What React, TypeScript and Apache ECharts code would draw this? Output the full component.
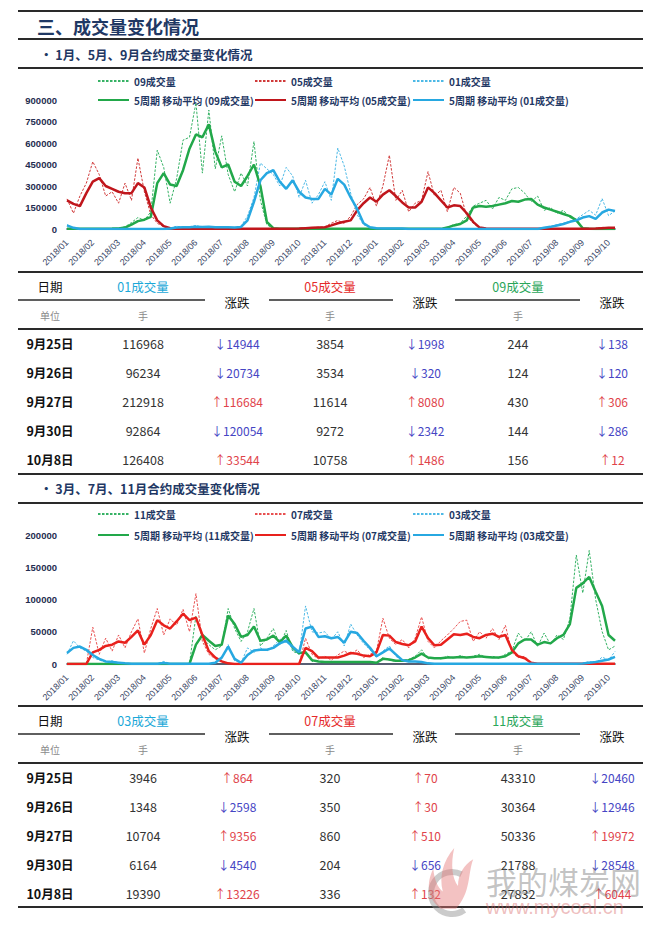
import React, { useEffect, useRef } from "react";
import * as echarts from "echarts";

// ---------- categories ----------
const months = [
  "2018/01", "2018/02", "2018/03", "2018/04", "2018/05", "2018/06", "2018/07", "2018/08",
  "2018/09", "2018/10", "2018/11", "2018/12", "2019/01", "2019/02", "2019/03", "2019/04",
  "2019/05", "2019/06", "2019/07", "2019/08", "2019/09", "2019/10",
];
const weeksInMonth = [4, 4, 4, 4, 4, 4, 4, 4, 4, 4, 4, 4, 4, 4, 4, 4, 4, 4, 4, 4, 4, 2];

// ---------- chart 1: 01 / 05 / 09 contracts ----------
const raw09 = [
  1000, 1500, 1000, 2000,
  2000, 3000, 2000, 3000,
  5000, 15000, 45000, 80000,
  60000, 120000, 550000, 430000,
  180000, 350000, 620000, 640000,
  880000, 390000, 830000, 420000,
  650000, 380000, 260000, 390000,
  300000, 610000, 200000, 30000,
  3000, 1000, 1000, 1000,
  1000, 1000, 1000, 1000,
  1000, 1000, 1000, 1000,
  1000, 1000, 1000, 1000,
  1000, 1000, 1000, 1000,
  1000, 1000, 1000, 1000,
  1000, 1000, 1000, 15000,
  30000, 40000, 90000, 160000,
  180000, 200000, 140000, 220000,
  200000, 280000, 290000, 250000,
  190000, 230000, 130000, 150000,
  110000, 130000, 80000, 70000,
  3000, 500, 244, 430,
  144, 156,
];
const ma09 = [
  1000, 1200, 1300, 1500,
  1800, 2200, 2500, 2800,
  4000, 10000, 30000, 55000,
  65000, 85000, 320000, 390000,
  310000, 300000, 410000, 560000,
  660000, 640000, 730000, 540000,
  430000, 450000, 330000, 300000,
  370000, 450000, 300000, 50000,
  6000, 1000, 1000, 1000,
  1000, 1000, 1000, 1000,
  1000, 1000, 1000, 1000,
  1000, 1000, 1000, 1000,
  1000, 1000, 1000, 1000,
  1000, 1000, 1000, 1000,
  1000, 1000, 1000, 10000,
  25000, 35000, 60000, 150000,
  160000, 155000, 160000, 170000,
  180000, 195000, 190000, 205000,
  210000, 170000, 150000, 135000,
  120000, 105000, 90000, 60000,
  5000, 1000, 500, 300,
  250, 200,
];
const raw05 = [
  210000, 110000, 230000, 320000,
  470000, 380000, 230000, 260000,
  180000, 320000, 200000, 495000,
  260000, 100000, 40000, 15000,
  5000, 1000, 1000, 1000,
  1000, 1000, 1000, 1000,
  1000, 1000, 1000, 1000,
  1000, 1000, 1000, 1000,
  1000, 1000, 1000, 1000,
  5000, 8000, 10000, 12000,
  15000, 40000, 60000, 40000,
  90000, 170000, 210000, 290000,
  160000, 300000, 515000, 200000,
  270000, 120000, 180000, 200000,
  400000, 230000, 270000, 120000,
  290000, 250000, 90000, 40000,
  8000, 2000, 1000, 1000,
  1000, 1000, 1000, 1000,
  1000, 1000, 1000, 1000,
  1000, 1000, 1000, 1000,
  1500, 3854, 3534, 11614,
  9272, 10758,
];
const ma05 = [
  200000, 175000, 160000, 250000,
  330000, 355000, 300000, 280000,
  260000, 250000, 250000, 320000,
  290000, 150000, 60000, 20000,
  6000, 1500, 1000, 1000,
  1000, 1000, 1000, 1000,
  1000, 1000, 1000, 1000,
  1000, 1000, 1000, 1000,
  1000, 1000, 1000, 1000,
  3000, 6000, 9000, 11000,
  12000, 25000, 40000, 50000,
  60000, 130000, 180000, 220000,
  190000, 240000, 270000, 230000,
  185000, 150000, 150000, 190000,
  290000, 250000, 200000, 150000,
  165000, 160000, 110000, 50000,
  10000, 3000, 1000, 1000,
  1000, 1000, 1000, 1000,
  1000, 1000, 1000, 1000,
  1000, 1000, 1000, 1000,
  1200, 2000, 3000, 6000,
  8000, 9000,
];
const raw01 = [
  30000, 5000, 500, 500,
  500, 500, 500, 500,
  500, 500, 500, 500,
  500, 500, 500, 500,
  5000, 20000, 10000, 15000,
  25000, 12000, 18000, 10000,
  15000, 12000, 8000, 20000,
  90000, 220000, 460000, 420000,
  380000, 300000, 430000, 370000,
  220000, 340000, 180000, 240000,
  330000, 200000, 565000, 440000,
  250000, 100000, 30000, 10000,
  5000, 3000, 3000, 3000,
  3000, 500, 500, 500,
  500, 500, 500, 500,
  500, 500, 500, 500,
  500, 500, 500, 500,
  500, 500, 500, 500,
  500, 500, 10000, 18000,
  30000, 40000, 55000, 70000,
  100000, 130000, 96234, 212918,
  92864, 126408,
];
const ma01 = [
  25000, 8000, 500, 500,
  500, 500, 500, 500,
  500, 500, 500, 500,
  500, 500, 500, 500,
  4000, 10000, 12000, 13000,
  15000, 14000, 15000, 13000,
  13000, 12000, 11000, 14000,
  60000, 190000, 340000, 390000,
  410000, 330000, 280000, 340000,
  260000, 220000, 210000, 210000,
  280000, 240000, 350000, 310000,
  220000, 140000, 40000, 12000,
  5000, 3000, 3000, 3000,
  3000, 500, 500, 500,
  500, 500, 500, 500,
  500, 500, 500, 500,
  500, 500, 500, 500,
  500, 500, 500, 500,
  500, 500, 8000, 15000,
  25000, 35000, 50000, 60000,
  80000, 90000, 70000, 115000,
  135000, 125000,
];

// ---------- chart 2: 03 / 07 / 11 contracts ----------
const raw11 = [
  0, 0, 0, 0,
  0, 0, 0, 0,
  0, 0, 0, 0,
  0, 0, 0, 0,
  0, 0, 0, 500,
  75000, 40000, 30000, 22000,
  28000, 86000, 55000, 35000,
  50000, 86000, 28000, 40000,
  55000, 30000, 52000, 20000,
  15000, 20000, 4000, 4000,
  3000, 3000, 3000, 3000,
  3000, 3000, 3000, 3000,
  2000, 10000, 6000, 4000,
  5000, 7000, 12000, 22000,
  8000, 10000, 8000, 12000,
  9000, 13000, 10000, 12000,
  15000, 10000, 12000, 9000,
  15000, 20000, 48000, 35000,
  50000, 27000, 48000, 30000,
  45000, 38000, 70000, 169000,
  110000, 176000, 100000, 50336,
  21788, 27832,
];
const ma11 = [
  0, 0, 0, 0,
  0, 0, 0, 0,
  0, 0, 0, 0,
  0, 0, 0, 0,
  0, 0, 0, 300,
  30000, 45000, 36000, 28000,
  30000, 75000, 62000, 42000,
  45000, 58000, 36000, 38000,
  44000, 34000, 44000, 26000,
  17000, 18000, 6000, 4000,
  3000, 3000, 3000, 3000,
  3000, 3000, 3000, 3000,
  2000, 8000, 7000, 5000,
  5000, 6000, 10000, 16000,
  10000, 9000, 9000, 10000,
  10000, 11000, 10000, 11000,
  12000, 11000, 10000, 10000,
  12000, 18000, 32000, 38000,
  38000, 30000, 34000, 32000,
  40000, 45000, 62000, 118000,
  125000, 135000, 112000, 90000,
  45000, 36000,
];
const raw07 = [
  0, 0, 0, 0,
  57000, 15000, 40000, 20000,
  45000, 25000, 50000, 70000,
  17000, 55000, 86000, 45000,
  70000, 60000, 85000, 50000,
  109000, 35000, 15000, 8000,
  3000, 1000, 0, 0,
  0, 0, 0, 0,
  0, 0, 0, 0,
  0, 40000, 15000, 8000,
  12000, 6000, 14000, 20000,
  15000, 22000, 10000, 15000,
  20000, 71000, 40000, 30000,
  38000, 25000, 40000, 73000,
  35000, 25000, 36000, 45000,
  55000, 66000, 68000, 35000,
  50000, 40000, 55000, 38000,
  60000, 18000, 10000, 12000,
  1000, 300, 300, 300,
  300, 300, 300, 300,
  300, 320, 350, 860,
  204, 336,
];
const ma07 = [
  0, 0, 0, 0,
  18000, 22000, 28000, 30000,
  35000, 33000, 42000, 52000,
  30000, 45000, 68000, 60000,
  55000, 66000, 78000, 68000,
  72000, 45000, 20000, 10000,
  4000, 1000, 0, 0,
  0, 0, 0, 0,
  0, 0, 0, 0,
  0, 25000, 20000, 10000,
  10000, 10000, 10000, 13000,
  17000, 16000, 13000, 12000,
  18000, 45000, 44000, 34000,
  31000, 29000, 35000, 58000,
  40000, 29000, 30000, 38000,
  46000, 45000, 47000, 42000,
  40000, 45000, 47000, 42000,
  45000, 22000, 12000, 9000,
  2000, 400, 300, 300,
  300, 300, 300, 300,
  300, 300, 350, 450,
  400, 350,
];
const raw03 = [
  15000, 36000, 25000, 20000,
  10000, 6000, 3000, 5000,
  2000, 1000, 500, 500,
  500, 500, 500, 4000,
  500, 500, 500, 500,
  500, 500, 500, 2000,
  8000, 30000, 5000, 2000,
  25000, 18000, 25000, 20000,
  28000, 38000, 40000, 22000,
  15000, 90000, 50000, 48000,
  50000, 38000, 50000, 28000,
  62000, 45000, 32000, 22000,
  10000, 20000, 28000, 12000,
  5000, 4000, 4000, 3000,
  1000, 500, 500, 500,
  500, 500, 500, 500,
  500, 500, 500, 500,
  500, 500, 500, 500,
  500, 500, 500, 500,
  500, 500, 500, 500,
  1000, 3946, 1348, 10704,
  6164, 19390,
];
const ma03 = [
  17000, 25000, 27000, 22000,
  14000, 8000, 4000, 3000,
  2000, 1000, 500, 500,
  500, 500, 500, 1500,
  500, 500, 500, 500,
  500, 500, 500, 2000,
  10000, 27000, 8000, 2000,
  14000, 21000, 22000, 22000,
  25000, 32000, 36000, 27000,
  18000, 55000, 58000, 42000,
  43000, 40000, 42000, 33000,
  50000, 48000, 36000, 25000,
  12000, 18000, 24000, 15000,
  6000, 4000, 4000, 3000,
  1000, 500, 500, 500,
  500, 500, 500, 500,
  500, 500, 500, 500,
  500, 500, 500, 500,
  500, 500, 500, 500,
  500, 500, 500, 500,
  800, 2000, 3000, 5000,
  7000, 11000,
];

// ---------- tables ----------
const tableDates = ["9月25日", "9月26日", "9月27日", "9月30日", "10月8日"];
const t1Vol01 = [116968, 96234, 212918, 92864, 126408];
const t1Chg01 = [-14944, -20734, 116684, -120054, 33544];
const t1Vol05 = [3854, 3534, 11614, 9272, 10758];
const t1Chg05 = [-1998, -320, 8080, -2342, 1486];
const t1Vol09 = [244, 124, 430, 144, 156];
const t1Chg09 = [-138, -120, 306, -286, 12];

const t2Vol03 = [3946, 1348, 10704, 6164, 19390];
const t2Chg03 = [864, -2598, 9356, -4540, 13226];
const t2Vol07 = [320, 350, 860, 204, 336];
const t2Chg07 = [70, 30, 510, -656, 132];
const t2Vol11 = [43310, 30364, 50336, 21788, 27832];
const t2Chg11 = [-20460, -12946, 19972, -28548, 6044];

// ---------- styling ----------
const CJK = "'Noto Sans CJK SC', 'Noto Sans', sans-serif";
const LAT = "'Liberation Sans', Arial, sans-serif";
const NAVY = "#1F3864";
const GREEN = "#22A84A";
const GREEN_D = "#36B265";
const RED1 = "#C0161C";
const RED1_D = "#D03A3A";
const RED2 = "#E8211D";
const RED2_D = "#E85050";
const BLUE = "#27A8E1";
const BLUE_D = "#4DB9E6";
const UP = "#E0434A";
const DOWN = "#4545C4";

const FLAME =
  "M22 66 C8 56 6 40 14 24 C15 36 19 44 24 48 C20 32 24 16 36 2 C32 20 34 34 40 42 C40 30 46 20 56 14 C50 30 54 48 38 66 Z";
echarts.graphic.registerShape("mcFlame", echarts.graphic.extendPath(FLAME, {}) as any);

function buildCategories() {
  const cats: string[] = [];
  months.forEach((m, i) => {
    for (let w = 1; w <= weeksInMonth[i]; w++) cats.push(`${m}#${w}`);
  });
  return cats;
}

function hline(x1: number, x2: number, y: number, w: number) {
  return {
    type: "line",
    silent: true,
    shape: { x1, y1: y, x2, y2: y },
    style: { stroke: "#2a2a2a", lineWidth: w },
  };
}

function txt(x: number, y: number, text: string, o: any = {}) {
  const align = o.align || "center";
  return {
    type: "text",
    silent: true,
    x,
    y,
    z: o.z || 10,
    style: {
      text,
      fill: o.color || "#222",
      fontSize: o.size || 12.5,
      fontWeight: o.weight || "normal",
      fontFamily: o.family || CJK,
      align,
      verticalAlign: "middle",
      textAlign: align,
      textVerticalAlign: "middle",
    },
  };
}

function fmtChg(v: number) {
  return (v >= 0 ? "↑" : "↓") + Math.abs(v);
}

function buildTable(
  y0: number,
  heads: string[],
  headColors: string[],
  vols: number[][],
  chgs: number[][],
  bottom: boolean
) {
  const colX = [50, 143, 237, 330, 425, 518, 612];
  const els: any[] = [];
  els.push(hline(18, 643, y0, 2));
  els.push(txt(colX[0], y0 + 14, "日期", { size: 12.5, color: "#111" }));
  els.push(txt(colX[0], y0 + 43, "单位", { size: 10, color: "#8a8a8a" }));
  const subs = [
    [18, 205],
    [269, 393],
    [455, 580],
  ];
  for (let k = 0; k < 3; k++) {
    els.push(txt(colX[1 + 2 * k], y0 + 14, heads[k], { size: 12.5, color: headColors[k] }));
    els.push(txt(colX[2 + 2 * k], y0 + 30, "涨跌", { size: 12.5, color: "#111" }));
    els.push(txt(colX[1 + 2 * k], y0 + 43, "手", { size: 10, color: "#8a8a8a" }));
    els.push(hline(subs[k][0], subs[k][1], y0 + 28, 1.5));
  }
  els.push(hline(18, 643, y0 + 57, 2));
  for (let r = 0; r < tableDates.length; r++) {
    const y = y0 + 71 + r * 29;
    els.push(txt(colX[0], y, tableDates[r], { size: 12.5, weight: "bold", color: "#111" }));
    for (let k = 0; k < 3; k++) {
      els.push(txt(colX[1 + 2 * k], y, String(vols[k][r]), { size: 12.5, color: "#333" }));
      const c = chgs[k][r];
      els.push(txt(colX[2 + 2 * k], y, fmtChg(c), { size: 12, color: c >= 0 ? UP : DOWN }));
    }
  }
  if (bottom) els.push(hline(18, 643, y0 + 201, 2));
  return els;
}

function mkSeries(name: string, data: number[], color: string, dashed: boolean, axis: number) {
  return {
    type: "line",
    name,
    data,
    xAxisIndex: axis,
    yAxisIndex: axis,
    symbol: "none",
    showSymbol: false,
    silent: true,
    emphasis: { disabled: true },
    z: dashed ? 2 : 3,
    itemStyle: { color },
    lineStyle: { color, width: dashed ? 1 : 2.5, type: dashed ? [2.5, 1.5] : "solid" },
  };
}

function buildOption() {
  const categories = buildCategories();
  const names1 = ["09成交量", "05成交量", "01成交量"];
  const names2 = ["11成交量", "07成交量", "03成交量"];
  const ma = (n: string) => `5周期 移动平均 (${n})`;

  const legendCols = [97, 254, 412];
  const legendBase = {
    orient: "horizontal",
    padding: 0,
    itemWidth: 31,
    itemHeight: 10,
    itemGap: 0,
    selectedMode: false,
    itemStyle: { opacity: 0, borderWidth: 0 },
    textStyle: { fontSize: 10, fontWeight: "bold", color: NAVY, fontFamily: CJK },
  };
  const legends: any[] = [];
  [
    [names1, 76, 95],
    [names2, 509, 530],
  ].forEach(([names, t1, t2]: any) => {
    names.forEach((n: string, i: number) => {
      legends.push({ ...legendBase, data: [n], left: legendCols[i], top: t1 });
      legends.push({ ...legendBase, data: [ma(n)], left: legendCols[i], top: t2 });
    });
  });

  const xAxisBase = (gridIndex: number) => ({
    gridIndex,
    type: "category",
    data: categories,
    boundaryGap: false,
    axisLine: { lineStyle: { color: "#1F2A44", width: 1.5 } },
    axisTick: { show: false },
    splitLine: { show: false },
    axisLabel: {
      interval: (_i: number, v: string) => v.endsWith("#1"),
      formatter: (v: string) => v.split("#")[0],
      rotate: 45,
      fontSize: 9,
      color: "#3A4766",
      margin: 12,
      fontFamily: LAT,
    },
  });
  const yAxisBase = (gridIndex: number, max: number, interval: number) => ({
    gridIndex,
    type: "value",
    min: 0,
    max,
    interval,
    axisLine: { show: false },
    axisTick: { show: false },
    splitLine: { show: false },
    axisLabel: {
      formatter: (v: number) => String(v),
      fontSize: 9.5,
      fontWeight: "bold",
      color: "#1F2D50",
      margin: 10,
      fontFamily: LAT,
    },
  });

  const series = [
    mkSeries(names1[0], raw09, GREEN_D, true, 0),
    mkSeries(names1[1], raw05, RED1_D, true, 0),
    mkSeries(names1[2], raw01, BLUE_D, true, 0),
    mkSeries(ma(names1[0]), ma09, GREEN, false, 0),
    mkSeries(ma(names1[1]), ma05, RED1, false, 0),
    mkSeries(ma(names1[2]), ma01, BLUE, false, 0),
    mkSeries(names2[0], raw11, GREEN_D, true, 1),
    mkSeries(names2[1], raw07, RED2_D, true, 1),
    mkSeries(names2[2], raw03, BLUE_D, true, 1),
    mkSeries(ma(names2[0]), ma11, GREEN, false, 1),
    mkSeries(ma(names2[1]), ma07, RED2, false, 1),
    mkSeries(ma(names2[2]), ma03, BLUE, false, 1),
  ];

  const graphics: any[] = [
    hline(18, 643, 11, 2),
    txt(37, 26, "三、成交量变化情况", { size: 18, weight: "bold", color: NAVY, align: "left" }),
    hline(18, 643, 39, 2),
    txt(40, 54, "• 1月、5月、9月合约成交量变化情况", { size: 12.5, weight: "bold", color: NAVY, align: "left" }),
    hline(18, 643, 68, 2),
    hline(18, 643, 474, 2),
    txt(40, 488, "• 3月、7月、11月合约成交量变化情况", { size: 12.5, weight: "bold", color: NAVY, align: "left" }),
    hline(18, 643, 503, 2),
    ...buildTable(272, ["01成交量", "05成交量", "09成交量"], ["#1BA8D8", "#E52B2B", "#2AA65A"],
      [t1Vol01, t1Vol05, t1Vol09], [t1Chg01, t1Chg05, t1Chg09], false),
    ...buildTable(706, ["03成交量", "07成交量", "11成交量"], ["#1BA8D8", "#E52B2B", "#2AA65A"],
      [t2Vol03, t2Vol07, t2Vol11], [t2Chg03, t2Chg07, t2Chg11], true),
    // watermark
    {
      type: "arc",
      silent: true,
      z: 20,
      shape: { cx: 452, cy: 893, r: 21, startAngle: 0.3 * Math.PI, endAngle: 1.65 * Math.PI, clockwise: true },
      style: { stroke: "rgba(140,140,140,0.45)", lineWidth: 6, fill: "none" },
    },
    {
      type: "mcFlame",
      silent: true,
      z: 21,
      x: 420,
      y: 846,
      scaleX: 0.95,
      scaleY: 0.95,
      style: { fill: "rgba(228,120,120,0.45)" },
    },
    txt(486, 880, "我的煤炭网", { size: 31, color: "rgba(110,110,110,0.42)", align: "left", z: 22 }),
    txt(486, 907, "www.mycoal.cn", { size: 20, color: "rgba(215,100,100,0.42)", align: "left", family: LAT, z: 22 }),
  ];

  return {
    animation: false,
    backgroundColor: "#ffffff",
    textStyle: { fontFamily: CJK },
    grid: [
      { left: 67, top: 100, width: 548, height: 129 },
      { left: 67, top: 535, width: 548, height: 129 },
    ],
    xAxis: [xAxisBase(0), xAxisBase(1)],
    yAxis: [yAxisBase(0, 900000, 150000), yAxisBase(1, 200000, 50000)],
    legend: legends,
    series,
    graphic: { elements: graphics },
  };
}

export default function App() {
  const ref = useRef<HTMLDivElement>(null);
  useEffect(() => {
    if (!ref.current) return;
    const chart = echarts.init(ref.current, null, { renderer: "svg" });
    chart.setOption(buildOption() as any);
    return () => chart.dispose();
  }, []);
  return (
    <div
      ref={ref}
      style={{ position: "absolute", left: 0, top: 0, width: 660, height: 926, background: "#fff" }}
    />
  );
}
